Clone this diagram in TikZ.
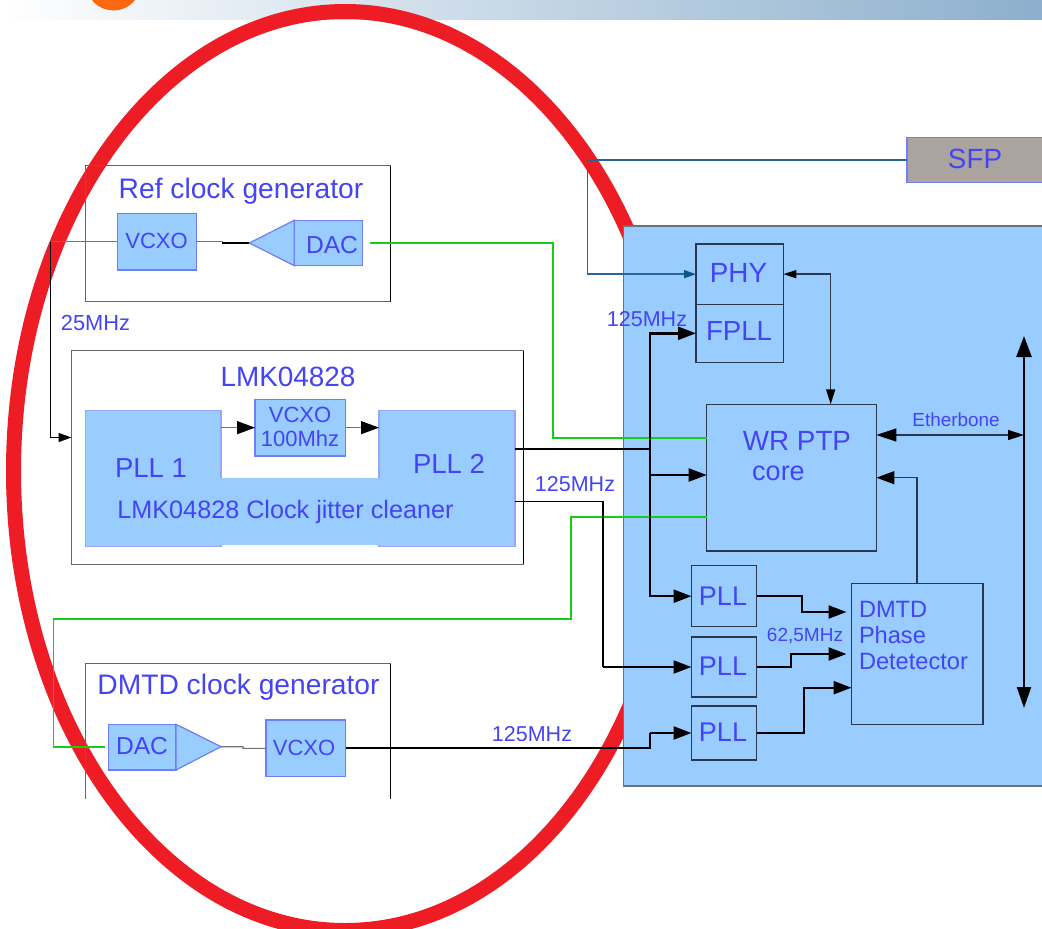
\documentclass[tikz,border=0pt]{standalone}
\usepackage{fontspec}
\setmainfont{Liberation Sans}
\usetikzlibrary{arrows.meta,calc}
\definecolor{txtblue}{RGB}{68,68,245}
\definecolor{boxfill}{RGB}{153,204,255}
\definecolor{boxedge}{RGB}{110,125,250}
\definecolor{darkedge}{RGB}{45,55,75}
\definecolor{panedge}{RGB}{105,115,125}
\definecolor{ringred}{RGB}{238,29,37}
\definecolor{wiregreen}{RGB}{20,205,20}
\definecolor{sfpblue}{RGB}{40,100,150}
\definecolor{sfptip}{RGB}{15,85,140}
\definecolor{sfpgray}{RGB}{170,163,158}
\definecolor{hdrmid}{RGB}{214,226,236}
\definecolor{hdrend}{RGB}{140,175,205}
\definecolor{hdrorange}{RGB}{250,105,15}
\tikzset{
  x=1pt,y=-1pt,
  boxbase/.style={rectangle,inner sep=0pt,outer sep=0pt},
  frame/.style={boxbase,draw=black!60,line width=1pt},
  blockbox/.style={boxbase,draw=boxedge,fill=boxfill,line width=1.2pt},
  softbox/.style={boxbase,draw=boxedge!70,fill=boxfill,line width=1.2pt},
  fpgabox/.style={boxbase,draw=darkedge,fill=boxfill,line width=1.3pt},
  panelbox/.style={boxbase,draw=panedge,fill=boxfill,line width=1.3pt},
  sfpbox/.style={boxbase,draw=boxedge,fill=sfpgray,line width=1.4pt},
  ampshape/.style={draw=boxedge,fill=boxfill,line width=1.2pt,line join=miter},
  lbl/.style={inner sep=0pt,outer sep=0pt,text=txtblue,anchor=base},
  lblw/.style={inner sep=0pt,outer sep=0pt,text=txtblue,anchor=base west},
  wire/.style={black,line width=1.5pt},
  wiremid/.style={black,line width=2pt},
  wirefat/.style={black,line width=2.4pt},
  wiregray/.style={black!55,line width=1.1pt},
  wiregrn/.style={wiregreen,line width=1.5pt},
  wiresfp/.style={sfpblue,line width=1.5pt},
  tip/.style={-{Triangle[color=black,length=18pt,width=13pt]}},
  tipsmall/.style={-{Triangle[color=black,length=13pt,width=9pt]}},
  tipsfp/.style={-{Triangle[color=sfptip,length=12pt,width=8pt]}},
  tiptwosmall/.style={{Triangle[color=black,length=13pt,width=8pt]}-{Triangle[color=black,length=15pt,width=9pt]}},
  tipether/.style={{Triangle[color=black,length=20pt,width=13pt]}-{Triangle[color=black,length=16pt,width=10pt]}},
  tipbus/.style={{Triangle[color=black,length=21pt,width=15pt]}-{Triangle[color=black,length=21pt,width=14pt]}},
}
\newcommand{\bx}[6]{\node[#6,anchor=north west,minimum width={(#4-#2)*1pt},minimum height={(#5-#3)*1pt}] (#1) at (#2,#3) {};}
\newcommand{\tx}[5]{\node[lbl,font=\fontsize{#4}{#4}\selectfont] (#1) at (#2,#3) {#5};}
\newcommand{\txw}[5]{\node[lblw,font=\fontsize{#4}{#4}\selectfont] (#1) at (#2,#3) {#5};}
\begin{document}
\begin{tikzpicture}
\useasboundingbox (0,0) rectangle (1042,929);
\clip (0,0) rectangle (1042,929);
\fill[white] (0,0) rectangle (1042,929);
% header
\shade[left color=white,middle color=hdrmid,right color=hdrend] (0,0) rectangle (1042,19);
\fill[hdrorange] (113.5,-17) circle[radius=27.5];
% ring
\draw[ringred,line width=15pt] (345,471) ellipse[x radius=331.5,y radius=459.5];
% panel
\bx{panel}{623.3}{226}{1070}{786}{panelbox}
% outer frames
\bx{refgen}{85.3}{165.7}{390.7}{301.7}{frame}
\bx{lmk}{71.5}{350.5}{523}{564}{frame}
\bx{dmtdgen}{85.3}{663.7}{390.7}{798.5}{boxbase}
\draw[black!60,line width=1pt] (dmtdgen.south west) |- (dmtdgen.north east);
\draw[black,line width=1pt] (dmtdgen.north east) -- (dmtdgen.south east);
\draw[black,line width=1pt] (refgen.north east) -- (refgen.south east);
\draw[black,line width=1pt] (lmk.north east) -- (lmk.south east);
% left blocks
\bx{refvcxo}{117.3}{213.3}{196.7}{270}{blockbox}
\bx{refdac}{294.3}{220.3}{362.7}{265.7}{blockbox}
\coordinate (reftip) at (249.3,243);
\draw[ampshape] (refdac.north west) -- (reftip) -- (refdac.south west) -- cycle;
\bx{plla}{85.7}{410.7}{221}{546.5}{softbox}
\bx{pllb}{379}{410.7}{515}{546.5}{softbox}
\fill[boxfill] (218,477.7) rectangle (382,545);
\bx{vcxohund}{255}{399.3}{345.7}{456}{blockbox}
\bx{dmtddac}{108.3}{724.3}{176}{770}{blockbox}
\coordinate (dmtdtip) at (221,746.7);
\draw[ampshape] (dmtddac.north east) -- (dmtdtip) -- (dmtddac.south east) -- cycle;
\bx{dmtdvcxo}{266}{720}{345.7}{776.7}{blockbox}
% right blocks
\bx{sfp}{907}{137.3}{1070}{182.7}{sfpbox}
\bx{phy}{696}{244}{783.3}{304.3}{fpgabox}
\bx{fpll}{696}{304.3}{783.3}{362.3}{fpgabox}
\bx{wr}{706.7}{404.3}{876.4}{551}{fpgabox}
\bx{pllc}{691.5}{565.7}{756.5}{626.7}{fpgabox}
\bx{plld}{691.5}{637}{756.5}{697}{fpgabox}
\bx{plle}{691.5}{706}{756.5}{760}{fpgabox}
\bx{dmtd}{851.5}{583.7}{983}{724.3}{fpgabox}
% routing points
\coordinate (c25) at (50.5,437.5);
\coordinate (c25top) at (50.5,241.65);
\coordinate (refkink) at (222.7,243);
\coordinate (dmtdkink) at (243,748.35);
\coordinate (g1) at (553,243);
\coordinate (g2) at (553,438);
\coordinate (g3) at (571,517);
\coordinate (g4) at (571,619);
\coordinate (g5) at (53.5,619);
\coordinate (g6) at (53.5,747.15);
\coordinate (tr) at (650,449);
\coordinate (cin) at (650,475);
\coordinate (low) at (603,501.7);
\coordinate (sk) at (587.3,274.15);
\coordinate (pw) at (830.7,274.15);
\coordinate (dk) at (917,477.7);
\coordinate (ec) at (1024,435);
\coordinate (bustop) at (1024,336);
\coordinate (busbot) at (1024,708);
\coordinate (ka) at (802,612);
\coordinate (kb) at (791,654);
\coordinate (kc) at (804,687.7);
\coordinate (kd) at (650,733);
% connectors
\draw[wiregray] (refvcxo.west) -- (c25top);
\draw[black,line width=1.2pt,tipsmall] (c25top) -- (c25) -- (lmk.west |- c25);
\draw[wiregray] (refvcxo.east) -- (refvcxo.east -| refkink);
\draw[black,line width=1.1pt] (refvcxo.east -| refkink) -- (refkink) -- (reftip);
\draw[wiregray,tip] (plla.east |- vcxohund.west) -- (vcxohund.west);
\draw[wiregray,tip] (vcxohund.east) -- (pllb.west |- vcxohund.east);
\draw[wiregray] (dmtdtip) -- (dmtdtip -| dmtdkink) -- (dmtdkink) -- (dmtdvcxo.west);
\draw[wiregrn,shorten <=7.5pt] (refdac.east) -- (g1) -- (g2) -- (wr.west |- g2);
\draw[wiregrn,shorten >=3pt] (wr.west |- g3) -- (g3) -- (g4) -- (g5) -- (g6) -- (dmtddac.west);
\draw[wire] (pllb.east |- tr) -- (tr);
\draw[wirefat,tip] (tr) |- (fpll.west);
\draw[wirefat,tip] (tr) |- (pllc.west);
\draw[wirefat,tip] (cin) -- (wr.west |- cin);
\draw[wire] (pllb.east |- low) -- (low) -- (low |- plld.west);
\draw[wiremid,tip] (low |- plld.west) -- (plld.west);
\draw[wiremid] (dmtdvcxo.east) -| (kd);
\draw[wirefat,tip] (kd) -- (plle.west);
\draw[wiresfp,tipsfp] (sfp.west) -| (sk) -- (phy.west);
\draw[darkedge,line width=1.5pt,tiptwosmall] (phy.east) -- (pw) -- (wr.north -| pw);
\draw[darkedge,line width=1.4pt,tip] (dmtd.north -| dk) -- (dk) -- (wr.east |- dk);
\draw[darkedge,line width=1.4pt,tipether] (wr.east |- ec) -- (ec);
\draw[wirefat,tipbus] (bustop) -- (busbot);
\draw[wirefat,tip,shorten >=5pt] (pllc.east) -| (ka) -- (dmtd.west |- ka);
\draw[wirefat,tip,shorten >=5pt] (plld.east) -| (kb) -- (dmtd.west |- kb);
\draw[wirefat,tip] (plle.east) -| (kc) -- (dmtd.west |- kc);
% labels
\tx{trefgen}{241}{198}{28.2}{Ref clock generator}
\tx{tfive}{95.5}{330}{21.8}{25MHz}
\tx{tlmk}{288}{386.7}{27.9}{LMK04828}
\tx{trefv}{156.5}{248}{22}{VCXO}
\tx{trefd}{332}{253}{24.6}{DAC}
\tx{thundv}{300}{422.7}{22}{VCXO}
\tx{thund}{300}{446}{22}{100Mhz}
\tx{tplla}{151}{477}{27.5}{PLL 1}
\tx{tpllb}{449}{473}{27.5}{PLL 2}
\tx{tclean}{285.5}{518}{25.2}{LMK04828 Clock jitter cleaner}
\tx{tsfp}{975}{168.3}{27.8}{SFP}
\tx{tphy}{738.5}{282.3}{27.8}{PHY}
\tx{tfpll}{739}{340}{27.6}{FPLL}
\tx{tphyclk}{647}{326.7}{21.5}{125MHz}
\tx{twr}{797}{450.7}{27.8}{WR PTP}
\tx{tcore}{778.5}{480.7}{27}{core}
\tx{tether}{956}{426}{18.9}{Etherbone}
\tx{tlowclk}{575}{491.7}{21.5}{125MHz}
\tx{tsixty}{805}{641.7}{19}{62,5MHz}
\tx{tdmtdclk}{532}{741}{21.5}{125MHz}
\tx{tpllc}{723}{605}{27}{PLL}
\tx{tplld}{723}{675}{27}{PLL}
\tx{tplle}{723}{741}{27}{PLL}
\txw{tdmta}{859}{617.7}{23.6}{DMTD}
\txw{tdmtb}{859}{643}{23.6}{Phase}
\txw{tdmtc}{859}{669}{23.6}{Detetector}
\tx{tdgen}{238.5}{694}{28.2}{DMTD clock generator}
\tx{tddac}{142}{754}{24.6}{DAC}
\tx{tdvcxo}{304}{755}{22}{VCXO}
\end{tikzpicture}
\end{document}
